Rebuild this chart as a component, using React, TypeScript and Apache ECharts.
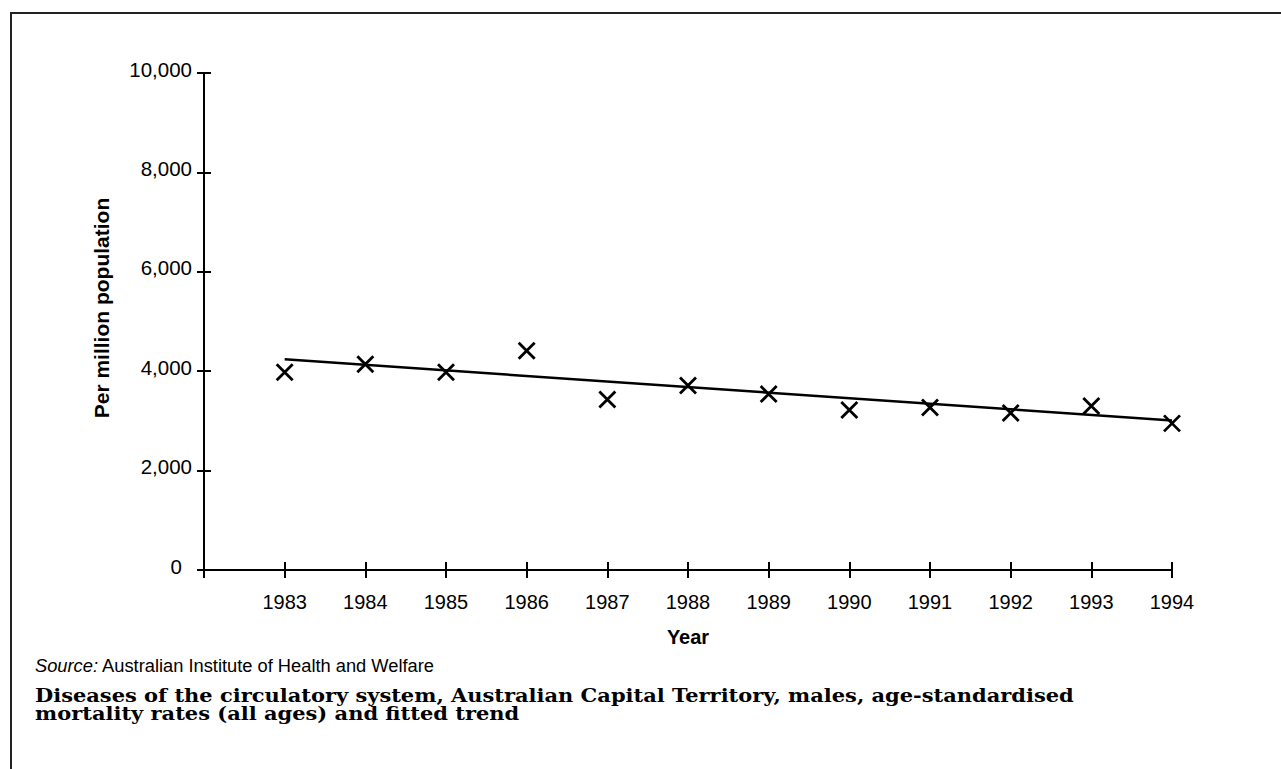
import React, { useEffect, useRef } from "react";
import * as echarts from "echarts";

const years = [1983, 1984, 1985, 1986, 1987, 1988, 1989, 1990, 1991, 1992, 1993, 1994];
const rates = [3980, 4140, 3980, 4410, 3430, 3710, 3540, 3220, 3270, 3160, 3300, 2950];
const trendYears = [1983, 1994];
const trendValues = [4240, 3010];
const yAxisName = "Per million population";
const xAxisName = "Year";
const sourceLabel = "Source:";
const sourceText = " Australian Institute of Health and Welfare";
const titleLines = [
  "Diseases of the circulatory system, Australian Capital Territory, males, age-standardised",
  "mortality rates (all ages) and fitted trend",
];

const SANS = "'Liberation Sans', Arial, Helvetica, sans-serif";
const SERIF = "'DejaVu Serif', 'Liberation Serif', serif";

export default function App() {
  const ref = useRef<HTMLDivElement>(null);
  useEffect(() => {
    if (!ref.current) return;
    const chart = echarts.init(ref.current, undefined, { renderer: "svg" });
    const fmt = (v: number) => v.toLocaleString("en-US");
    const axisLine = { show: true, lineStyle: { color: "#000", width: 2 } };
    chart.setOption({
      animation: false,
      backgroundColor: "#fff",
      grid: { left: 204, top: 73, right: 109, bottom: 199, containLabel: false },
      xAxis: [
        {
          type: "value",
          min: 1982,
          max: 1994,
          interval: 1,
          axisLine,
          splitLine: { show: false },
          axisTick: { show: true, length: 8, lineStyle: { color: "#000", width: 2 } },
          axisLabel: {
            margin: 22,
            color: "#000",
            fontSize: 20,
            fontFamily: SANS,
            formatter: (v: number) => (v === 1982 ? "" : String(v)),
          },
          name: xAxisName,
          nameLocation: "middle",
          nameGap: 57,
          nameTextStyle: { color: "#000", fontSize: 20, fontWeight: "bold", fontFamily: SANS },
        },
        {
          type: "value",
          position: "bottom",
          offset: 0,
          min: 1982,
          max: 1994,
          interval: 1,
          axisLine: { show: false },
          splitLine: { show: false },
          axisTick: { show: true, inside: true, length: 8, lineStyle: { color: "#000", width: 2 } },
          axisLabel: { show: false },
        },
      ],
      yAxis: [
        {
          type: "value",
          min: 0,
          max: 10000,
          interval: 2000,
          axisLine,
          splitLine: { show: false },
          axisTick: { show: true, length: 7, lineStyle: { color: "#000", width: 2 } },
          axisLabel: {
            margin: 12,
            color: "#000",
            fontSize: 20.5,
            fontFamily: SANS,
            padding: [0, 0, 8, 0],
            formatter: (v: number) => (v === 0 ? "{z|0}" : fmt(v)),
            rich: { z: { fontSize: 20.5, fontFamily: SANS, color: "#000", padding: [0, 10, 0, 0] } },
          },
        },
        {
          type: "value",
          position: "left",
          offset: 0,
          min: 0,
          max: 10000,
          interval: 2000,
          axisLine: { show: false },
          splitLine: { show: false },
          axisTick: { show: true, inside: true, length: 7, lineStyle: { color: "#000", width: 2 } },
          axisLabel: { show: false },
        },
      ],
      series: [
        {
          type: "line",
          name: "Fitted trend",
          xAxisIndex: 0,
          yAxisIndex: 0,
          data: trendYears.map((y, i) => [y, trendValues[i]]),
          showSymbol: false,
          symbol: "none",
          lineStyle: { color: "#000", width: 2.5 },
          silent: true,
        },
        {
          type: "scatter",
          name: "Mortality rate",
          xAxisIndex: 0,
          yAxisIndex: 0,
          data: years.map((y, i) => [y, rates[i]]),
          symbol: "path://M0,0L10,10M10,0L0,10",
          symbolSize: 16,
          itemStyle: { color: "transparent", borderColor: "#000", borderWidth: 2.8, opacity: 1 },
          z: 3,
        },
      ],
      graphic: [
        {
          type: "rect",
          shape: { x: 11, y: 13, width: 1320, height: 820 },
          style: { fill: "none", stroke: "#222", lineWidth: 2 },
          silent: true,
        },
        {
          type: "text",
          x: 101,
          y: 308,
          rotation: Math.PI / 2,
          style: {
            text: yAxisName,
            font: `bold 21px ${SANS}`,
            fill: "#000",
            textAlign: "center",
            textVerticalAlign: "middle",
          },
        },
        {
          type: "text",
          x: 35,
          y: 665,
          style: {
            text: `{i|${sourceLabel}}{n|${sourceText}}`,
            rich: {
              i: { fontStyle: "italic", fontSize: 18.3, fontFamily: SANS, fill: "#000" },
              n: { fontSize: 18.3, fontFamily: SANS, fill: "#000" },
            },
            textVerticalAlign: "middle",
          },
        },
        {
          type: "text",
          x: 35,
          y: 687,
          scaleX: 1.165,
          style: {
            text: titleLines.join("\n"),
            font: `bold 18px ${SERIF}`,
            lineHeight: 18,
            fill: "#000",
            textVerticalAlign: "top",
          },
        },
      ],
    });
    return () => chart.dispose();
  }, []);
  return (
    <div
      ref={ref}
      style={{ position: "fixed", left: 0, top: 0, width: 1281, height: 769, background: "#fff" }}
    />
  );
}
